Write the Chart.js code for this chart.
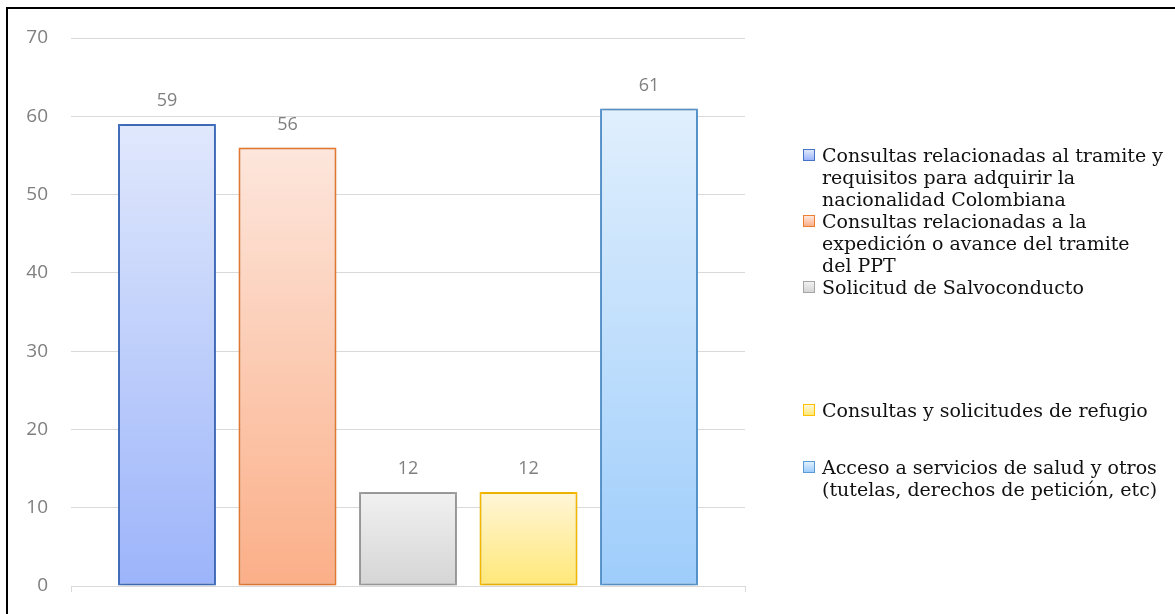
<!DOCTYPE html>
<html>
<head>
<meta charset="utf-8">
<script src="https://cdn.jsdelivr.net/npm/chart.js@4.4.1/dist/chart.umd.min.js"></script>
<style>
  body { margin: 0; background: #fff; overflow: hidden; }
  #wrap { position: relative; width: 1175px; height: 614px; }
  #frame { position: absolute; left: 6px; top: 7px; width: 1200px; height: 640px; border: 2px solid #000; box-sizing: border-box; }
  #chart { position: absolute; left: 0; top: 0; }
  #legend { position: absolute; left: 0; top: 0; font-family: "DejaVu Serif", serif; font-size: 19px; line-height: 22px; color: #111; }
  .item { position: absolute; left: 803px; white-space: nowrap; }
  .box { position: absolute; left: 0; top: 5px; width: 12px; height: 12px; box-sizing: border-box; border: 1.5px solid; }
  .txt { position: absolute; left: 19px; top: 0; }
</style>
</head>
<body>
<div id="wrap">
  <div id="frame"></div>
  <canvas id="chart" width="1175" height="614"></canvas>
  <div id="legend"></div>
</div>
<script>
// datos
const categorias = [''];
const series = [
    ['Consultas relacionadas al tramite y', 'requisitos para adquirir la', 'nacionalidad Colombiana'],
    ['Consultas relacionadas a la', 'expedición o avance del tramite', 'del PPT'],
    ['Solicitud de Salvoconducto'],
    ['Consultas y solicitudes de refugio'],
    ['Acceso a servicios de salud y otros', '(tutelas, derechos de petición, etc)']
];
const valores = [59, 56, 12, 12, 61];
const yTicks = [0, 10, 20, 30, 40, 50, 60, 70];

// colores: [arriba, abajo, borde]
const colores = [
    ['#e0e8fc', '#9cb4fa', '#4472c4'],
    ['#fde6dc', '#fbaf88', '#ed7d31'],
    ['#f1f1f1', '#d5d5d5', '#a5a5a5'],
    ['#fff6d8', '#ffe877', '#ffc000'],
    ['#e0effd', '#9ecdfb', '#5b9bd5']
];
const legendTops = [144, 210, 276, 399, 456];

function barGradient(ctx, i) {
    const chart = ctx.chart;
    if (!chart.chartArea) return colores[i][1];
    const y = chart.scales.y;
    const top = y.getPixelForValue(valores[i]);
    const bottom = y.getPixelForValue(0);
    const g = chart.ctx.createLinearGradient(0, top, 0, bottom);
    g.addColorStop(0, colores[i][0]);
    g.addColorStop(1, colores[i][1]);
    return g;
}

const datasets = [];
for (let i = 0; i < series.length; i++) {
    datasets.push({
        label: series[i],
        data: [valores[i]],
        backgroundColor: function(ctx) { return barGradient(ctx, i); },
        borderColor: colores[i][2],
        borderWidth: 2,
        borderSkipped: false
    });
}

const shadowPlugin = {
    id: 'sombra',
    beforeDatasetsDraw(chart) {
        const c = chart.ctx;
        c.save();
        c.shadowColor = 'rgba(0,0,0,0.22)';
        c.shadowBlur = 5;
        c.shadowOffsetX = 0;
        c.shadowOffsetY = 0;
    },
    afterDatasetsDraw(chart) {
        chart.ctx.restore();
    }
};

const labelsPlugin = {
    id: 'etiquetas',
    afterDatasetsDraw(chart) {
        const c = chart.ctx;
        c.save();
        c.font = '18px "Open Sans", sans-serif';
        c.fillStyle = '#7f7f7f';
        c.textAlign = 'center';
        c.textBaseline = 'middle';
        chart.data.datasets.forEach(function(ds, i) {
            const bar = chart.getDatasetMeta(i).data[0];
            c.fillText(ds.data[0], bar.x, bar.y - 23);
        });
        c.restore();
    }
};

const ctx = document.getElementById('chart').getContext('2d');
const chart = new Chart(ctx, {
    type: 'bar',
    data: {
        labels: categorias,
        datasets: datasets
    },
    options: {
        responsive: false,
        animation: false,
        devicePixelRatio: 1,
        categoryPercentage: 0.894,
        barPercentage: 0.813,
        layout: {
            padding: { left: 0, right: 430, top: 38, bottom: 8 }
        },
        scales: {
            x: {
                grid: { display: true, drawOnChartArea: false, drawTicks: true, tickLength: 6, color: '#d9d9d9', offset: true },
                border: { display: true, color: '#d9d9d9', width: 1 },
                ticks: { display: false },
                afterFit: function(scale) { scale.height = 20; }
            },
            y: {
                min: 0,
                max: 70,
                afterBuildTicks: function(scale) {
                    scale.ticks = yTicks.map(function(v) { return { value: v }; });
                },
                afterFit: function(scale) {
                    scale.width = 71;
                    scale.paddingTop = 0;
                    scale.paddingBottom = 0;
                },
                grid: { color: '#d9d9d9', lineWidth: 1, drawTicks: false },
                border: { display: false },
                ticks: {
                    padding: 23,
                    color: '#7f7f7f',
                    font: { family: '"Open Sans", sans-serif', size: 19 }
                }
            }
        },
        plugins: {
            legend: { display: false },
            tooltip: { enabled: false }
        }
    },
    plugins: [shadowPlugin, labelsPlugin]
});

// leyenda en html
const legend = document.getElementById('legend');
chart.data.datasets.forEach(function(ds, i) {
    const item = document.createElement('div');
    item.className = 'item';
    item.style.top = legendTops[i] + 'px';
    const box = document.createElement('div');
    box.className = 'box';
    box.style.borderColor = colores[i][2];
    box.style.background = 'linear-gradient(' + colores[i][0] + ', ' + colores[i][1] + ')';
    const txt = document.createElement('div');
    txt.className = 'txt';
    txt.innerHTML = ds.label.join('<br>');
    item.appendChild(box);
    item.appendChild(txt);
    legend.appendChild(item);
});
</script>
</body>
</html>
